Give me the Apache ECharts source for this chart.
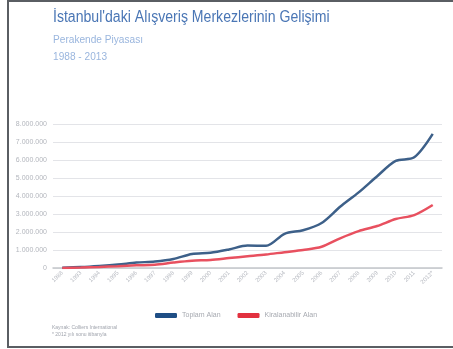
<!DOCTYPE html>
<html>
<head>
<meta charset="utf-8">
<script src="https://cdn.jsdelivr.net/npm/echarts@6/dist/echarts.min.js"></script>
<style>
  html, body { margin: 0; padding: 0; background: #ffffff; }
  #chart { width: 453px; height: 349px; }
</style>
</head>
<body>
<div id="chart"></div>
<script>
// Years on the category axis
const years = ['1988','1993','1994','1995','1996','1997','1998','1999','2000','2001','2002',
               '2003','2004','2005','2006','2007','2008','2009','2010','2011','2012*'];
// Shopping centre area in m² (cumulative)
const toplamAlan = [20000, 50000, 110000, 190000, 300000, 360000, 500000, 780000, 850000, 1030000, 1250000,
                    1230000, 1900000, 2100000, 2500000, 3400000, 4200000, 5100000, 5950000, 6150000, 7450000];
const kiralanabilirAlan = [5000, 30000, 60000, 100000, 150000, 180000, 300000, 400000, 450000, 550000, 650000,
                           750000, 880000, 1000000, 1180000, 1650000, 2050000, 2330000, 2720000, 2940000, 3500000];
// Value axis ticks
const yMax = 8000000;
const yStep = 1000000;

const fmt = v => String(v).replace(/\B(?=(\d{3})+(?!\d))/g, '.');
const sans = '"Liberation Sans", Arial, sans-serif';

const chart = echarts.init(document.getElementById('chart'), null, { renderer: 'canvas' });
chart.setOption({
  animation: false,
  backgroundColor: '#ffffff',
  graphic: [
    { type: 'rect', shape: { x: 8, y: 1, width: 460, height: 346 },
      style: { fill: 'none', stroke: '#5a5e63', lineWidth: 2 }, z: 10 },
    // condensed title: a regular face squeezed horizontally
    { type: 'text', x: 53, y: 10, scaleX: 0.88,
      style: { text: "İstanbul'daki Alışveriş Merkezlerinin Gelişimi", fill: '#4a76b5',
               font: '16px ' + sans } },
    { type: 'text', x: 53, y: 34, scaleX: 0.92,
      style: { text: 'Perakende Piyasası', fill: '#9ab6de', font: '11px ' + sans } },
    { type: 'text', x: 53, y: 51, scaleX: 0.92,
      style: { text: '1988 - 2013', fill: '#9ab6de', font: '11px ' + sans } },
    { type: 'text', x: 52, y: 324,
      style: { text: 'Kaynak: Colliers International\n* 2012 yılı sonu itibarıyla', fill: '#a0a4ad',
               font: '5px ' + sans, lineHeight: 7 } }
  ],
  grid: { left: 53, right: 11, top: 124, bottom: 81, containLabel: false },
  legend: {
    left: 150, top: 307,
    icon: 'roundRect', itemWidth: 22, itemHeight: 5, itemGap: 17,
    textStyle: { color: '#a6a9b0', fontSize: 7, fontFamily: sans },
    data: ['Toplam Alan', 'Kiralanabilir Alan']
  },
  xAxis: {
    type: 'category',
    data: years,
    boundaryGap: true,
    axisLine: { lineStyle: { color: '#c4c6ca', width: 1.5 } },
    axisTick: { show: false },
    axisLabel: { rotate: 45, fontSize: 6, color: '#b8bbc2', margin: 4, fontFamily: sans, interval: 0 }
  },
  yAxis: {
    type: 'value',
    min: 0, max: yMax, interval: yStep,
    axisLine: { show: false },
    axisTick: { show: false },
    splitLine: { lineStyle: { color: '#e3e4e8', width: 1 } },
    axisLabel: { fontSize: 7, color: '#b3b6bd', margin: 6, fontFamily: sans, formatter: v => fmt(v) }
  },
  series: [
    { name: 'Toplam Alan', type: 'line', data: toplamAlan, smooth: 0.3, symbol: 'none',
      itemStyle: { color: '#1f4e85' }, lineStyle: { color: '#3d6089', width: 2.5 } },
    { name: 'Kiralanabilir Alan', type: 'line', data: kiralanabilirAlan, smooth: 0.3, symbol: 'none',
      itemStyle: { color: '#e2313f' }, lineStyle: { color: '#e8505f', width: 2.5 } }
  ]
});
</script>
</body>
</html>
